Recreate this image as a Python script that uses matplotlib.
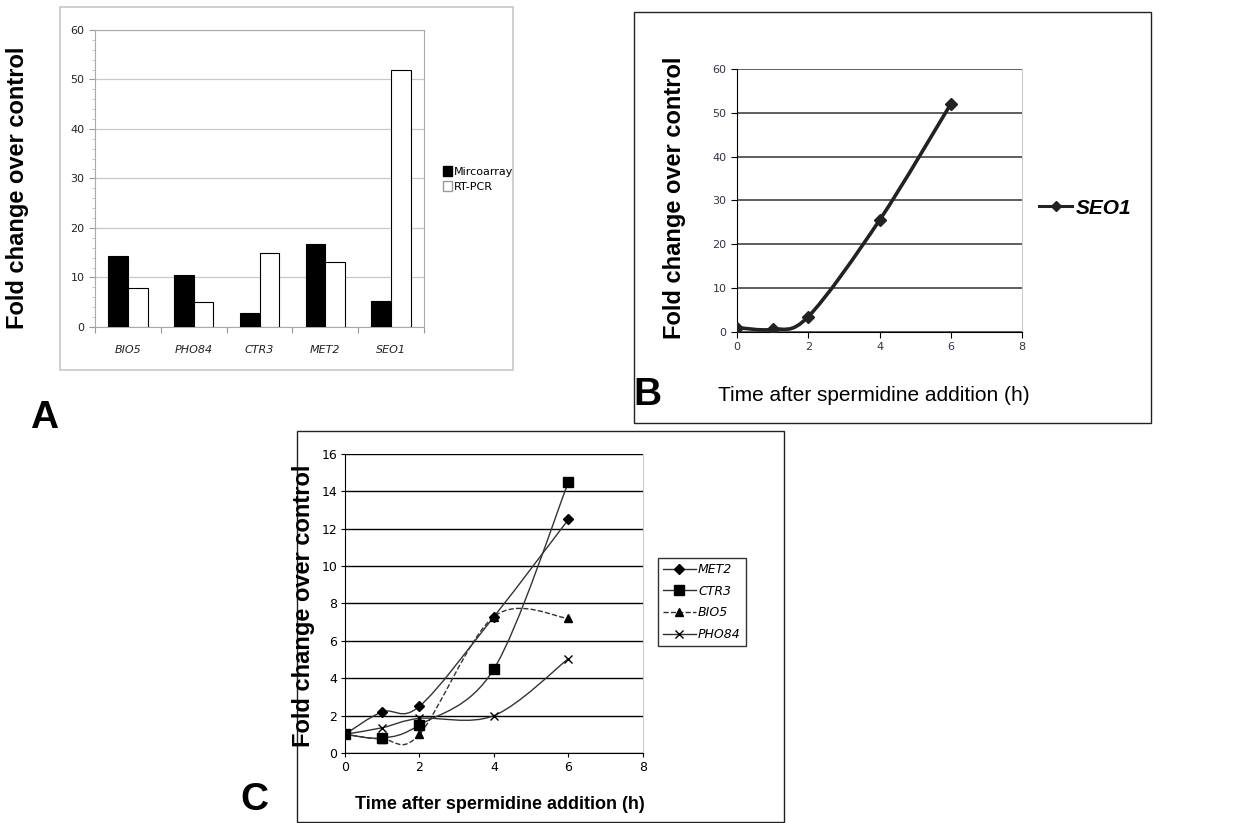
import matplotlib
matplotlib.use("Agg")
import matplotlib.pyplot as plt
from matplotlib.patches import Rectangle, Patch, PathPatch
from matplotlib.lines import Line2D
from matplotlib.path import Path
import numpy as np

plt.rcParams["font.family"] = ["Liberation Sans", "DejaVu Sans"]

# Panel A data
genes = ["BIO5", "PHO84", "CTR3", "MET2", "SEO1"]
microarray = [14.3, 10.5, 2.8, 16.7, 5.3]
rtpcr = [7.9, 5.1, 15.0, 13.1, 52.0]

# Panel B data
time_b = [0, 1, 2, 4, 6]
seo1 = [1.0, 0.6, 3.5, 25.5, 52.0]

# Panel C data
time_c = [0, 1, 2, 4, 6]
met2 = [1.0, 2.2, 2.5, 7.3, 12.5]
ctr3 = [1.0, 0.8, 1.5, 4.5, 14.5]
bio5 = [1.0, 0.75, 1.0, 7.3, 7.2]
pho84 = [1.0, 1.35, 1.85, 2.0, 5.05]


def smooth_path(xs, ys):
    # excel style smoothed line: catmull-rom segments as cubic beziers
    pts = np.column_stack([xs, ys]).astype(float)
    n = len(pts)
    verts = [pts[0]]
    codes = [Path.MOVETO]
    for i in range(n - 1):
        p0 = pts[i - 1] if i > 0 else pts[i]
        p1 = pts[i]
        p2 = pts[i + 1]
        p3 = pts[i + 2] if i + 2 < n else pts[i + 1]
        c1 = p1 + (p2 - p0) / 6.0
        c2 = p2 - (p3 - p1) / 6.0
        verts += [c1, c2, p2]
        codes += [Path.CURVE4] * 3
    return Path(verts, codes)


fig = plt.figure(figsize=(12.37, 8.23), dpi=100)

# outer boxes
fig.add_artist(Rectangle((0.0485, 0.5504), 0.3662, 0.4411, transform=fig.transFigure,
                         fill=False, edgecolor="#c8c8c8", linewidth=1.2))
fig.add_artist(Rectangle((0.5125, 0.486), 0.418, 0.4994, transform=fig.transFigure,
                         fill=False, edgecolor="#222222", linewidth=1.0))
fig.add_artist(Rectangle((0.2401, 0.0015), 0.3937, 0.4751, transform=fig.transFigure,
                         fill=False, edgecolor="#222222", linewidth=1.0))

# ---- Panel A
axA = fig.add_axes([0.0768, 0.6027, 0.266, 0.3609])
x = np.arange(len(genes))
w = 0.3
axA.bar(x - w / 2, microarray, w, color="black", edgecolor="black", linewidth=0.8, zorder=3)
axA.bar(x + w / 2, rtpcr, w, color="white", edgecolor="black", linewidth=0.8, zorder=3)
axA.set_xlim(-0.5, 4.5)
axA.set_ylim(0, 60)
axA.set_yticks(range(0, 61, 10))
axA.set_yticks(range(0, 61, 2), minor=True)
axA.set_xticks(np.arange(-0.5, 4.6, 1))
axA.set_xticklabels([])
axA.set_xticks(x, minor=True)
axA.set_xticklabels(genes, minor=True, style="italic", fontsize=8, family="DejaVu Sans",
                    color="#222222")
axA.tick_params(axis="x", which="minor", length=0, pad=13)
axA.tick_params(axis="x", which="major", length=4, color="#999999")
axA.tick_params(axis="y", which="major", length=4, color="#999999", labelsize=8,
                labelcolor="#222222")
axA.tick_params(axis="y", which="minor", length=2, color="#bbbbbb")
for lab in axA.get_yticklabels():
    lab.set_family("DejaVu Sans")
axA.grid(axis="y", color="#c8c8c8", linewidth=0.9, zorder=0)
for s in axA.spines.values():
    s.set_color("#aaaaaa")
fig.text(0.0141, 0.7716, "Fold change over control", rotation=90, ha="center", va="center",
         fontsize=17, fontweight="bold")
fig.legend(handles=[Patch(facecolor="black", edgecolor="black", label="Mircoarray"),
                    Patch(facecolor="white", edgecolor="#999999", label="RT-PCR")],
           loc="center left", bbox_to_anchor=(0.35, 0.7825), frameon=False,
           prop={"family": "DejaVu Sans", "size": 8}, handlelength=0.8, handleheight=1.0,
           handletextpad=0.2, labelspacing=0.4)
fig.text(0.0356, 0.492, "A", ha="center", va="center", fontsize=28, fontweight="bold")

# ---- Panel B
axB = fig.add_axes([0.5958, 0.5966, 0.2304, 0.3196])
axB.add_patch(PathPatch(smooth_path(time_b, seo1), fill=False, edgecolor="#222222",
                        linewidth=2.6, zorder=3))
axB.plot(time_b, seo1, linestyle="none", marker="D", markersize=6, color="#222222", zorder=4)
axB.set_xlim(0, 8)
axB.set_ylim(0, 60)
axB.set_xticks(range(0, 9, 2))
axB.set_yticks(range(0, 61, 10))
axB.grid(axis="y", color="#333333", linewidth=1.1, zorder=0)
axB.tick_params(labelsize=8, length=4, direction="out", labelcolor="#333344")
for lab in axB.get_xticklabels() + axB.get_yticklabels():
    lab.set_family("DejaVu Sans")
axB.spines["top"].set_visible(False)
axB.spines["right"].set_color("#cccccc")
fig.text(0.545, 0.76, "Fold change over control", rotation=90, ha="center", va="center",
         fontsize=17, fontweight="bold")
fig.text(0.706, 0.52, "Time after spermidine addition (h)", ha="center", va="center",
         fontsize=15)
fig.text(0.523, 0.52, "B", ha="center", va="center", fontsize=28, fontweight="bold")
fig.legend(handles=[Line2D([], [], color="#222222", linewidth=2.2, marker="D", markersize=5,
                           label="SEO1")],
           loc="center left", bbox_to_anchor=(0.84, 0.747), frameon=False, borderaxespad=0,
           borderpad=0, prop={"size": 15, "weight": "bold", "style": "italic"},
           handlelength=1.6, handletextpad=0.15)

# ---- Panel C
axC = fig.add_axes([0.2789, 0.0851, 0.2409, 0.3633])
series = [("MET2", met2, "D", 5, "-"), ("CTR3", ctr3, "s", 7, "-"),
          ("BIO5", bio5, "^", 6, "--"), ("PHO84", pho84, "x", 6, "-")]
handles = []
for name, ys, mk, ms, ls in series:
    axC.add_patch(PathPatch(smooth_path(time_c, ys), fill=False, edgecolor="#333333",
                            linewidth=1.0, linestyle=ls, zorder=3))
    axC.plot(time_c, ys, linestyle="none", marker=mk, markersize=ms, color="black",
             markeredgewidth=1.0, zorder=4)
    handles.append(Line2D([], [], color="#333333", linewidth=1.0, linestyle=ls, marker=mk,
                          markersize=ms, markerfacecolor="black", markeredgecolor="black",
                          label=name))
axC.set_xlim(0, 8)
axC.set_ylim(0, 16)
axC.set_xticks(range(0, 9, 2))
axC.set_yticks(range(0, 17, 2))
axC.grid(axis="y", color="black", linewidth=1.0, zorder=0)
axC.tick_params(labelsize=9, length=3, pad=2.5, direction="out")
for lab in axC.get_xticklabels() + axC.get_yticklabels():
    lab.set_family("DejaVu Sans")
axC.spines["top"].set_visible(False)
axC.spines["right"].set_color("#cccccc")
fig.text(0.2455, 0.2637, "Fold change over control", rotation=90, ha="center", va="center",
         fontsize=17, fontweight="bold")
fig.text(0.404, 0.022, "Time after spermidine addition (h)", ha="center", va="center",
         fontsize=13, fontweight="bold")
fig.text(0.206, 0.028, "C", ha="center", va="center", fontsize=28, fontweight="bold")
legC = fig.legend(handles=handles, loc="upper left", bbox_to_anchor=(0.532, 0.322),
                  borderaxespad=0, frameon=True, fancybox=False, edgecolor="black",
                  prop={"family": "DejaVu Sans", "size": 9, "style": "italic"},
                  handlelength=2.6, handletextpad=0.2, labelspacing=0.7, borderpad=0.4)
legC.get_frame().set_linewidth(1.0)

fig.savefig("out.png", dpi=100)
